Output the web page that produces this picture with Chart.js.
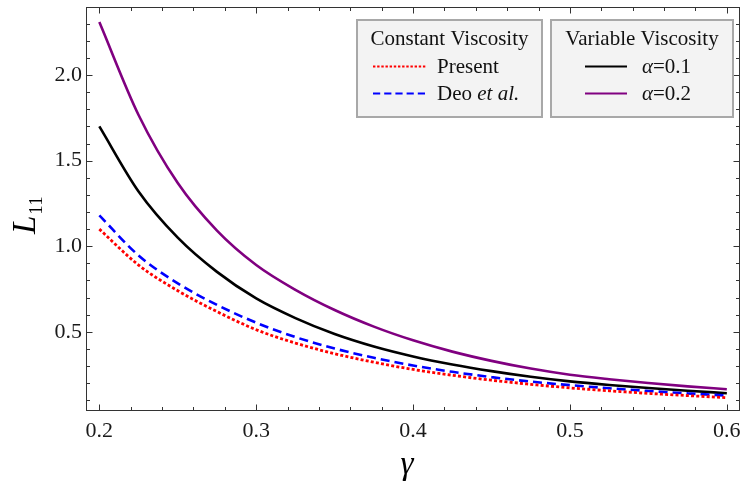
<!DOCTYPE html>
<html>
<head>
<meta charset="utf-8">
<script src="https://cdn.jsdelivr.net/npm/chart.js@4"></script>
<style>
  html, body { margin: 0; padding: 0; background: #fff; }
  #wrap { width: 740px; height: 488px; }
</style>
</head>
<body>
<div id="wrap"><canvas id="chart" width="740" height="488"></canvas></div>
<script>
  // values
  const gammaValues = [0.2, 0.225, 0.25, 0.275, 0.3, 0.325, 0.35, 0.375, 0.4,
                       0.425, 0.45, 0.475, 0.5, 0.525, 0.55, 0.575, 0.6];
  const presentL11 = [1.10, 0.89, 0.74, 0.618, 0.512, 0.434, 0.372, 0.322, 0.28,
                      0.246, 0.217, 0.193, 0.172, 0.155, 0.14, 0.127, 0.115];
  const deoL11 = [1.18, 0.946, 0.783, 0.657, 0.553, 0.469, 0.402, 0.348, 0.303,
                  0.266, 0.235, 0.209, 0.188, 0.17, 0.154, 0.14, 0.127];
  const alpha01L11 = [1.70, 1.32, 1.05, 0.85, 0.695, 0.58, 0.487, 0.414, 0.356,
                      0.309, 0.27, 0.237, 0.21, 0.189, 0.171, 0.155, 0.141];
  const alpha02L11 = [2.31, 1.767, 1.369, 1.091, 0.89, 0.745, 0.627, 0.53, 0.45,
                      0.384, 0.33, 0.285, 0.249, 0.223, 0.201, 0.181, 0.164];

  const xMajorTicks = [0.2, 0.3, 0.4, 0.5, 0.6];
  const yMajorTicks = [0.5, 1.0, 1.5, 2.0];
  const X_MINOR_STEP = 0.02;
  const Y_MINOR_STEP = 0.1;

  const SERIF = "'Liberation Serif', 'DejaVu Serif', serif";
  const FRAME = "#333";

  const pts = (ys) => gammaValues.map((g, i) => ({ x: g, y: ys[i] }));
  const r2 = (v) => Math.round(v * 100) / 100;
  const isMajor = (list, v) => list.some((m) => Math.abs(m - v) < 1e-6);

  function minorRange(lo, hi, step) {
    const out = [];
    for (let v = lo; v <= hi + 1e-9; v += step) out.push(r2(v));
    return out;
  }

  const datasets = [
    { label: "Present", group: 0, data: pts(presentL11), borderColor: "#ff0000",
      borderWidth: 2.8, borderDash: [3, 2.2], order: 0 },
    { label: "Deo", group: 0, data: pts(deoL11), borderColor: "#0000ff",
      borderWidth: 2.6, borderDash: [9, 5], order: 1 },
    { label: "α=0.1", group: 1, data: pts(alpha01L11), borderColor: "#000000",
      borderWidth: 2.6, order: 2 },
    { label: "α=0.2", group: 1, data: pts(alpha02L11), borderColor: "#800080",
      borderWidth: 2.6, order: 3 },
  ];
  datasets.forEach((d) => {
    d.pointRadius = 0;
    d.fill = false;
    d.cubicInterpolationMode = "monotone";
  });

  // inward frame ticks on all four sides, Mathematica style
  const frameTicks = {
    id: "frameTicks",
    afterDraw(chart) {
      const { ctx, chartArea: a, scales } = chart;
      ctx.save();
      ctx.strokeStyle = FRAME;
      ctx.lineWidth = 1;
      ctx.strokeRect(a.left + 0.5, a.top + 0.5, a.right - a.left - 1, a.bottom - a.top - 1);
      ctx.beginPath();
      for (const t of scales.x.ticks) {
        const px = Math.round(scales.x.getPixelForValue(t.value)) + 0.5;
        const len = isMajor(xMajorTicks, t.value) ? 6.5 : 4;
        ctx.moveTo(px, a.bottom); ctx.lineTo(px, a.bottom - len);
        ctx.moveTo(px, a.top); ctx.lineTo(px, a.top + len);
      }
      for (const t of scales.y.ticks) {
        const py = Math.round(scales.y.getPixelForValue(t.value)) + 0.5;
        const len = isMajor(yMajorTicks, t.value) ? 6.5 : 4;
        ctx.moveTo(a.left, py); ctx.lineTo(a.left + len, py);
        ctx.moveTo(a.right, py); ctx.lineTo(a.right - len, py);
      }
      ctx.stroke();
      ctx.restore();
    },
  };

  // axis titles: italic L with subscript 11, and gamma
  const axisTitles = {
    id: "axisTitles",
    afterDraw(chart) {
      const { ctx } = chart;
      ctx.save();
      ctx.fillStyle = "#000";
      ctx.textBaseline = "alphabetic";
      ctx.translate(35, 234);
      ctx.rotate(-Math.PI / 2);
      ctx.font = "italic 33px " + SERIF;
      ctx.fillText("L", 0, 0);
      const w = ctx.measureText("L").width;
      ctx.font = "19px " + SERIF;
      ctx.fillText("11", w + 1, 7);
      ctx.restore();

      ctx.save();
      ctx.fillStyle = "#000";
      ctx.font = "italic 33px " + SERIF;
      ctx.textAlign = "center";
      ctx.textBaseline = "alphabetic";
      ctx.fillText("γ", 407, 474);
      ctx.restore();
    },
  };

  // two boxed legends with a heading each
  const LEGEND_BOXES = [
    { title: "Constant Viscosity", x: 357, w: 185, lineX: 373, lineW: 53, textX: 437 },
    { title: "Variable Viscosity", x: 551, w: 182, lineX: 585, lineW: 42, textX: 642 },
  ];
  const boxedLegend = {
    id: "boxedLegend",
    afterDraw(chart) {
      const { ctx } = chart;
      const top = 20, h = 97;
      const rowsY = [66.5, 93.5];
      LEGEND_BOXES.forEach((b, gi) => {
        ctx.save();
        ctx.fillStyle = "#f3f3f3";
        ctx.fillRect(b.x, top, b.w, h);
        ctx.strokeStyle = "#a8a8a8";
        ctx.lineWidth = 2;
        ctx.strokeRect(b.x, top, b.w, h);

        ctx.fillStyle = "#111";
        ctx.font = "21px " + SERIF;
        ctx.textAlign = "center";
        ctx.textBaseline = "middle";
        ctx.fillText(b.title, b.x + b.w / 2, 39);

        const items = chart.data.datasets.filter((d) => d.group === gi);
        items.forEach((d, i) => {
          const y = rowsY[i];
          ctx.beginPath();
          ctx.strokeStyle = d.borderColor;
          ctx.lineWidth = 2;
          ctx.setLineDash(d.borderDash ? d.borderDash.map((v) => v * 0.8) : []);
          ctx.moveTo(b.lineX, y);
          ctx.lineTo(b.lineX + b.lineW, y);
          ctx.stroke();
          ctx.setLineDash([]);

          ctx.textAlign = "left";
          ctx.fillStyle = "#111";
          if (d.label === "Deo") {
            ctx.font = "21px " + SERIF;
            ctx.fillText("Deo ", b.textX, y + 1);
            const w = ctx.measureText("Deo ").width;
            ctx.font = "italic 21px " + SERIF;
            ctx.fillText("et al.", b.textX + w, y + 1);
          } else if (d.label.startsWith("α")) {
            ctx.font = "italic 21px " + SERIF;
            ctx.fillText("α", b.textX, y + 1);
            const w = ctx.measureText("α").width;
            ctx.font = "21px " + SERIF;
            ctx.fillText(d.label.slice(1), b.textX + w, y + 1);
          } else {
            ctx.font = "21px " + SERIF;
            ctx.fillText(d.label, b.textX, y + 1);
          }
        });
        ctx.restore();
      });
    },
  };

  Chart.defaults.font.family = SERIF;
  Chart.defaults.color = "#1a1a1a";

  new Chart(document.getElementById("chart"), {
    type: "line",
    data: { datasets },
    options: {
      responsive: false,
      animation: false,
      layout: { padding: { top: 7, right: 0, bottom: 0, left: 0 } },
      plugins: { legend: { display: false }, tooltip: { enabled: false } },
      scales: {
        x: {
          type: "linear",
          min: 0.1915,
          max: 0.6084,
          grid: { display: false, drawTicks: false },
          border: { display: false },
          afterBuildTicks: (s) => {
            s.ticks = minorRange(0.2, 0.6, X_MINOR_STEP).map((v) => ({ value: v }));
          },
          afterFit: (s) => {
            s.height = 77;
            s.paddingLeft = 0;
            s.paddingRight = 0;
          },
          ticks: {
            autoSkip: false,
            maxRotation: 0,
            padding: 7,
            font: { size: 22 },
            callback: (v) => (isMajor(xMajorTicks, v) ? v.toFixed(1) : ""),
          },
        },
        y: {
          type: "linear",
          min: 0.037,
          max: 2.398,
          grid: { display: false, drawTicks: false },
          border: { display: false },
          afterBuildTicks: (s) => {
            s.ticks = minorRange(0.1, 2.3, Y_MINOR_STEP).map((v) => ({ value: v }));
          },
          afterFit: (s) => {
            s.width = 86;
            s.paddingTop = 0;
            s.paddingBottom = 0;
          },
          ticks: {
            autoSkip: false,
            padding: 4,
            font: { size: 22 },
            callback: (v) => (isMajor(yMajorTicks, v) ? v.toFixed(1) : ""),
          },
        },
      },
    },
    plugins: [frameTicks, axisTitles, boxedLegend],
  });
</script>
</body>
</html>
